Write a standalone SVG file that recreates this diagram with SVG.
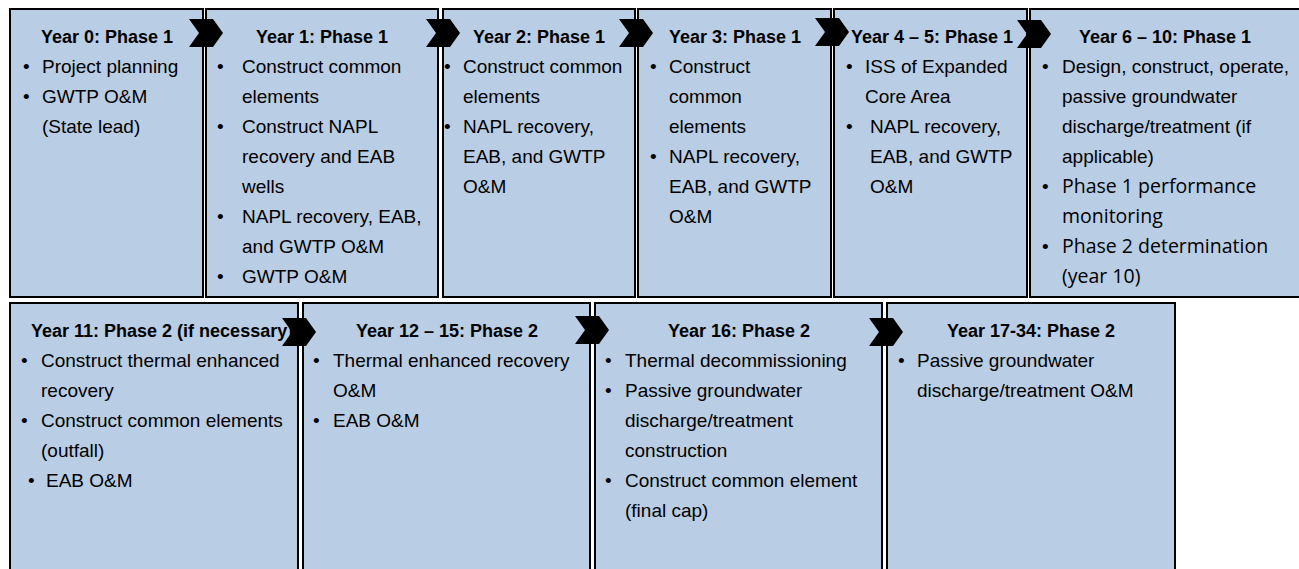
<svg xmlns="http://www.w3.org/2000/svg" width="1299" height="569" viewBox="0 0 1299 569">
<defs>
<style>
.box{fill:#B9CDE5;stroke:#000;stroke-width:2}
.h{font-family:"Liberation Sans",Arial,sans-serif;font-weight:bold;font-size:18px;fill:#000;text-anchor:middle}
.t{font-family:"Liberation Sans",Arial,sans-serif;font-size:19px;fill:#000}
.alt{font-family:"Open Sans","Noto Sans",sans-serif;font-size:19.5px;fill:#000}
.b{font-family:"Liberation Sans",Arial,sans-serif;font-size:19px;fill:#000}
.chev{fill:#000}
</style>
<path id="chev" d="M0,0 L24,0 L34,14 L24,28 L0,28 L10,14 Z"/>
</defs>
<rect x="0" y="0" width="1299" height="569" fill="#fff"/>

<g id="year0">
<rect class="box" x="10" y="9" width="193" height="288"/>
<text class="h" x="107" y="43">Year 0: Phase 1</text>
<text class="b" x="23" y="73">•</text><text class="t" x="42" y="73">Project planning</text>
<text class="b" x="23" y="103">•</text><text class="t" x="42" y="103">GWTP O&amp;M</text>
<text class="t" x="42" y="133">(State lead)</text>
</g>

<g id="year1">
<rect class="box" x="206" y="9" width="232" height="288"/>
<text class="h" x="322" y="43">Year 1: Phase 1</text>
<text class="b" x="217" y="73">•</text><text class="t" x="242" y="73">Construct common</text>
<text class="t" x="242" y="103">elements</text>
<text class="b" x="217" y="133">•</text><text class="t" x="242" y="133">Construct NAPL</text>
<text class="t" x="242" y="163">recovery and EAB</text>
<text class="t" x="242" y="193">wells</text>
<text class="b" x="217" y="223">•</text><text class="t" x="242" y="223">NAPL recovery, EAB,</text>
<text class="t" x="242" y="253">and GWTP O&amp;M</text>
<text class="b" x="217" y="283">•</text><text class="t" x="242" y="283">GWTP O&amp;M</text>
</g>

<g id="year2">
<rect class="box" x="443" y="9" width="192" height="288"/>
<text class="h" x="539" y="43">Year 2: Phase 1</text>
<text class="b" x="444" y="73">•</text><text class="t" x="463" y="73">Construct common</text>
<text class="t" x="463" y="103">elements</text>
<text class="b" x="444" y="133">•</text><text class="t" x="463" y="133">NAPL recovery,</text>
<text class="t" x="463" y="163">EAB, and GWTP</text>
<text class="t" x="463" y="193">O&amp;M</text>
</g>

<g id="year3">
<rect class="box" x="638" y="9" width="193" height="288"/>
<text class="h" x="735" y="43">Year 3: Phase 1</text>
<text class="b" x="650" y="73">•</text><text class="t" x="669" y="73">Construct</text>
<text class="t" x="669" y="103">common</text>
<text class="t" x="669" y="133">elements</text>
<text class="b" x="650" y="163">•</text><text class="t" x="669" y="163">NAPL recovery,</text>
<text class="t" x="669" y="193">EAB, and GWTP</text>
<text class="t" x="669" y="223">O&amp;M</text>
</g>

<g id="year4-5">
<rect class="box" x="834" y="9" width="193" height="288"/>
<text class="h" x="932" y="43">Year 4 – 5: Phase 1</text>
<text class="b" x="846" y="73">•</text><text class="t" x="865" y="73">ISS of Expanded</text>
<text class="t" x="865" y="103">Core Area</text>
<text class="b" x="846" y="133">•</text><text class="t" x="870" y="133">NAPL recovery,</text>
<text class="t" x="870" y="163">EAB, and GWTP</text>
<text class="t" x="870" y="193">O&amp;M</text>
</g>

<g id="year6-10">
<rect class="box" x="1030" y="9" width="280" height="288"/>
<text class="h" x="1165" y="43">Year 6 – 10: Phase 1</text>
<text class="b" x="1042" y="73">•</text><text class="t" x="1062" y="73">Design, construct, operate,</text>
<text class="t" x="1062" y="103">passive groundwater</text>
<text class="t" x="1062" y="133">discharge/treatment (if</text>
<text class="t" x="1062" y="163">applicable)</text>
<text class="b" x="1042" y="193">•</text><text class="alt" x="1062" y="193">Phase 1 performance</text>
<text class="alt" x="1062" y="223">monitoring</text>
<text class="b" x="1042" y="253">•</text><text class="alt" x="1062" y="253">Phase 2 determination</text>
<text class="alt" x="1062" y="283">(year 10)</text>
</g>

<g id="year11">
<rect class="box" x="10" y="303" width="288" height="280"/>
<text class="h" x="31" y="337" style="text-anchor:start">Year 11: Phase 2 (if necessary)</text>
<text class="b" x="21" y="367">•</text><text class="t" x="41" y="367">Construct thermal enhanced</text>
<text class="t" x="41" y="397">recovery</text>
<text class="b" x="21" y="427">•</text><text class="t" x="41" y="427">Construct common elements</text>
<text class="t" x="41" y="457">(outfall)</text>
<text class="b" x="28" y="487">•</text><text class="t" x="46" y="487">EAB O&amp;M</text>
</g>

<g id="year12-15">
<rect class="box" x="303" y="303" width="287" height="280"/>
<text class="h" x="447" y="337">Year 12 – 15: Phase 2</text>
<text class="b" x="313" y="367">•</text><text class="t" x="333" y="367">Thermal enhanced recovery</text>
<text class="t" x="333" y="397">O&amp;M</text>
<text class="b" x="313" y="427">•</text><text class="t" x="333" y="427">EAB O&amp;M</text>
</g>

<g id="year16">
<rect class="box" x="595" y="303" width="287" height="280"/>
<text class="h" x="739" y="337">Year 16: Phase 2</text>
<text class="b" x="605" y="367">•</text><text class="t" x="625" y="367">Thermal decommissioning</text>
<text class="b" x="605" y="397">•</text><text class="t" x="625" y="397">Passive groundwater</text>
<text class="t" x="625" y="427">discharge/treatment</text>
<text class="t" x="625" y="457">construction</text>
<text class="b" x="605" y="487">•</text><text class="t" x="625" y="487">Construct common element</text>
<text class="t" x="625" y="517">(final cap)</text>
</g>

<g id="year17-34">
<rect class="box" x="887" y="303" width="288" height="280"/>
<text class="h" x="1031" y="337">Year 17-34: Phase 2</text>
<text class="b" x="898" y="367">•</text><text class="t" x="917" y="367">Passive groundwater</text>
<text class="t" x="917" y="397">discharge/treatment O&amp;M</text>
</g>

<g id="connectors" class="chev">
<use href="#chev" x="189" y="19"/>
<use href="#chev" x="426" y="19"/>
<use href="#chev" x="619" y="19"/>
<use href="#chev" x="815" y="18"/>
<use href="#chev" x="1017" y="20"/>
<use href="#chev" x="282" y="318"/>
<use href="#chev" x="575" y="316"/>
<use href="#chev" x="869" y="318"/>
</g>
</svg>
